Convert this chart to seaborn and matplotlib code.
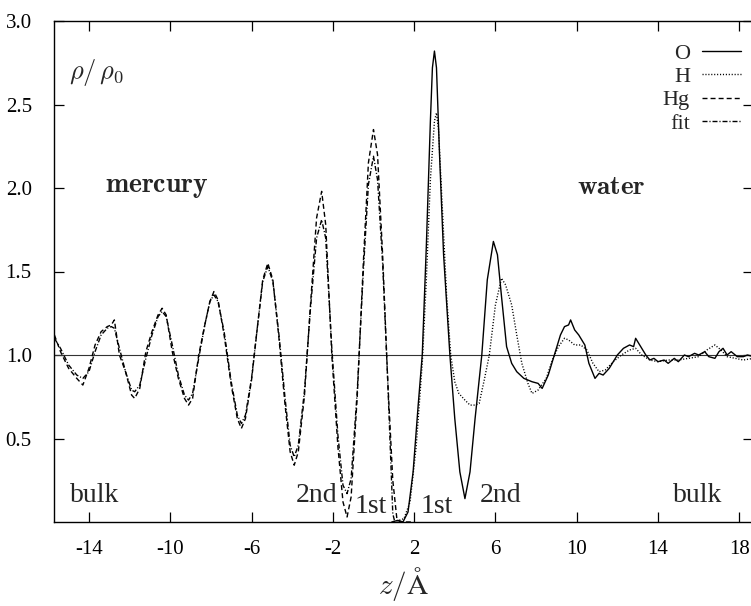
import matplotlib
matplotlib.use("Agg")
import matplotlib.pyplot as plt
import seaborn as sns
import pandas as pd

# ---------------- data ----------------
hg_z = [-15.7, -15.4, -15.0, -14.6, -14.3, -14.0, -13.7, -13.4, -13.1, -12.9, -12.75, -12.5,
        -12.2, -11.9, -11.75, -11.5, -11.2, -10.9, -10.6, -10.4, -10.2, -9.9, -9.6, -9.3,
        -9.1, -8.9, -8.6, -8.3, -8.05, -7.85, -7.65, -7.35, -7.0, -6.7, -6.5, -6.3, -6.0,
        -5.7, -5.45, -5.2, -4.95, -4.65, -4.35, -4.1, -3.9, -3.7, -3.4, -3.1, -2.8, -2.55,
        -2.35, -2.05, -1.75, -1.5, -1.3, -1.1, -0.8, -0.5, -0.25, 0.0, 0.2, 0.45, 0.7,
        0.95, 1.15, 1.3, 2.0]
hg_rho = [1.12, 1.02, 0.92, 0.86, 0.82, 0.92, 1.06, 1.14, 1.17, 1.18, 1.21, 1.00,
          0.90, 0.76, 0.74, 0.80, 1.02, 1.14, 1.24, 1.28, 1.24, 1.02, 0.86, 0.74,
          0.70, 0.74, 1.00, 1.18, 1.32, 1.38, 1.33, 1.12, 0.82, 0.62, 0.56, 0.62, 0.85,
          1.18, 1.45, 1.55, 1.45, 1.10, 0.70, 0.42, 0.34, 0.42, 0.75, 1.30, 1.82, 1.98,
          1.78, 1.00, 0.45, 0.12, 0.03, 0.15, 0.75, 1.55, 2.15, 2.35, 2.20, 1.60, 0.85,
          0.25, 0.02, 0.0, 0.0]

fit_z = [-15.7, -15.4, -15.0, -14.6, -14.3, -14.0, -13.7, -13.4, -13.1, -12.9, -12.75, -12.5,
         -12.2, -11.9, -11.75, -11.5, -11.2, -10.9, -10.6, -10.4, -10.2, -9.9, -9.6, -9.3,
         -9.1, -8.9, -8.6, -8.3, -8.05, -7.85, -7.65, -7.35, -7.0, -6.7, -6.5, -6.3, -6.0,
         -5.7, -5.45, -5.2, -4.95, -4.65, -4.35, -4.1, -3.9, -3.7, -3.4, -3.1, -2.8, -2.55,
         -2.35, -2.05, -1.75, -1.5, -1.3, -1.1, -0.8, -0.5, -0.25, 0.0, 0.2, 0.45, 0.7,
         0.95, 1.05]
fit_rho = [1.10, 1.04, 0.94, 0.88, 0.86, 0.90, 1.02, 1.12, 1.16, 1.17, 1.16, 1.04,
           0.90, 0.79, 0.78, 0.82, 0.98, 1.12, 1.23, 1.26, 1.23, 1.06, 0.88, 0.76,
           0.73, 0.77, 0.98, 1.18, 1.32, 1.36, 1.32, 1.14, 0.84, 0.64, 0.59, 0.64, 0.86,
           1.18, 1.44, 1.53, 1.44, 1.12, 0.74, 0.46, 0.39, 0.46, 0.78, 1.28, 1.70, 1.81,
           1.70, 1.04, 0.52, 0.22, 0.17, 0.26, 0.78, 1.50, 2.02, 2.19, 2.05, 1.55, 0.85,
           0.05, 0.0]

o_z = [0.9, 1.2, 1.45, 1.7, 1.95, 2.2, 2.4, 2.6, 2.8, 2.9, 3.0, 3.1, 3.25, 3.45, 3.76,
       4.0, 4.25, 4.5, 4.75, 5.0, 5.33, 5.6, 5.9, 6.1, 6.3, 6.55, 6.8, 7.05, 7.4, 7.8,
       8.1, 8.3, 8.6, 8.9, 9.2, 9.4, 9.6, 9.7, 9.9, 10.1, 10.4, 10.6, 10.9, 11.1, 11.3,
       11.6, 12.0, 12.3, 12.6, 12.8, 12.9, 13.1, 13.4, 13.6, 13.8, 14.0, 14.3, 14.5,
       14.8, 15.0, 15.3, 15.5, 15.8, 16.0, 16.3, 16.5, 16.8, 17.0, 17.2, 17.4, 17.6,
       17.9, 18.2, 18.4, 18.7]
o_rho = [0.0, 0.01, 0.0, 0.06, 0.30, 0.70, 1.00, 1.65, 2.40, 2.72, 2.82, 2.72, 2.20, 1.60,
         1.00, 0.62, 0.30, 0.14, 0.30, 0.62, 1.00, 1.45, 1.68, 1.60, 1.35, 1.05, 0.95,
         0.90, 0.86, 0.84, 0.83, 0.80, 0.88, 1.00, 1.12, 1.17, 1.18, 1.21, 1.15, 1.12,
         1.06, 0.95, 0.86, 0.89, 0.88, 0.92, 1.00, 1.04, 1.06, 1.05, 1.10, 1.06, 1.00,
         0.97, 0.98, 0.96, 0.97, 0.95, 0.98, 0.96, 1.00, 0.99, 1.01, 1.00, 1.02, 0.99,
         0.98, 1.02, 1.04, 1.00, 1.02, 0.99, 0.99, 1.00, 0.99]

h_z = [1.0, 1.5, 1.8, 2.1, 2.4, 2.6, 2.8, 3.0, 3.1, 3.2, 3.4, 3.6, 3.8, 4.0, 4.2, 4.5,
       4.75, 5.0, 5.2, 5.45, 5.7, 6.0, 6.3, 6.5, 6.8, 7.05, 7.3, 7.6, 7.8, 8.1, 8.5, 8.8,
       9.1, 9.4, 9.6, 9.9, 10.2, 10.5, 10.8, 11.1, 11.4, 11.8, 12.2, 12.6, 12.9, 13.2,
       13.6, 14.0, 14.5, 15.0, 15.5, 16.0, 16.4, 16.8, 17.1, 17.4, 17.8, 18.2, 18.7]
h_rho = [0.0, 0.02, 0.12, 0.45, 0.95, 1.45, 2.05, 2.40, 2.45, 2.35, 1.85, 1.35, 1.00,
         0.84, 0.77, 0.73, 0.70, 0.70, 0.71, 0.85, 1.00, 1.30, 1.46, 1.42, 1.30, 1.12,
         0.95, 0.83, 0.77, 0.79, 0.86, 0.97, 1.05, 1.10, 1.09, 1.06, 1.06, 1.03, 0.95,
         0.90, 0.91, 0.96, 1.00, 1.03, 1.04, 1.00, 0.97, 0.96, 0.97, 0.97, 0.98, 0.99,
         1.03, 1.06, 1.03, 0.99, 0.98, 0.97, 0.98]

x_ticks = [-14, -10, -6, -2, 2, 6, 10, 14, 18]
y_ticks = [0.5, 1.0, 1.5, 2.0, 2.5, 3.0]
y_ticklabels = ["0.5", "1.0", "1.5", "2.0", "2.5", "3.0"]

# ---------------- style ----------------
sns.set_theme(style="ticks")
plt.rcParams["font.family"] = ["Liberation Serif", "DejaVu Serif"]
plt.rcParams["mathtext.fontset"] = "cm"

fig = plt.figure(figsize=(7.51, 6.06), dpi=100)
ax = fig.add_axes([54 / 751, 1 - 522 / 606, 1.002 - 54 / 751, (522 - 21) / 606])

lw = 1.0
ax.axhline(1.0, color="#333333", lw=0.8, zorder=1)

sns.lineplot(x=hg_z, y=hg_rho, ax=ax, color="black", lw=lw, label="Hg",
             linestyle=(0, (3.6, 2.2)), sort=False, estimator=None)
sns.lineplot(x=fit_z, y=fit_rho, ax=ax, color="black", lw=lw, label="fit",
             linestyle=(0, (3.6, 1.4, 0.8, 1.4)), sort=False, estimator=None)
sns.lineplot(x=h_z, y=h_rho, ax=ax, color="black", lw=lw, label="H",
             linestyle=(0, (0.8, 1.3)), sort=False, estimator=None)
sns.lineplot(x=o_z, y=o_rho, ax=ax, color="black", lw=lw, label="O",
             linestyle="-", sort=False, estimator=None)

ax.set_xlim(-15.72, 18.65)
ax.set_ylim(0, 3.0)
ax.set_xticks(x_ticks)
ax.set_xticklabels([str(t) for t in x_ticks])
ax.set_yticks(y_ticks)
ax.set_yticklabels(y_ticklabels)
ax.tick_params(direction="in", length=7, width=0.9, top=True, right=True,
               labelsize=15, colors="black")
ax.tick_params(axis="x", pad=13)
ax.tick_params(axis="y", pad=16)
for s in ax.spines.values():
    s.set_visible(True)
    s.set_linewidth(1.0)
    s.set_color("black")

ax.set_xlabel(r"$z/\mathrm{\AA}$", fontsize=21, labelpad=4)
ax.set_ylabel("")

# annotations
ax.text(-15.0, 2.69, r"$\rho/\,\rho_0$", fontsize=19, ha="left", va="center")
ax.text(-10.65, 2.0, r"$\mathbf{mercury}$", fontsize=20, ha="center", va="center")
ax.text(11.7, 2.0, r"$\mathbf{water}$", fontsize=19.5, ha="center", va="center")
for txt, xx, yy in [("bulk", -13.7, 0.16), ("2nd", -2.8, 0.16), ("1st", -0.13, 0.09),
                    ("1st", 3.12, 0.09), ("2nd", 6.27, 0.16), ("bulk", 15.95, 0.16)]:
    ax.text(xx, yy, txt, fontsize=20, ha="center", va="center")

handles, labels = ax.get_legend_handles_labels()
order = ["O", "H", "Hg", "fit"]
hmap = dict(zip(labels, handles))
ax.legend([hmap[k] for k in order], order, loc="upper right",
          bbox_to_anchor=(741 / 751 + 0.0, 1 - 43 / 606), bbox_transform=fig.transFigure,
          frameon=False, markerfirst=False, fontsize=16, labelspacing=0.13,
          handlelength=1.75, handletextpad=0.55, borderpad=0, borderaxespad=0)

fig.savefig("out.png", dpi=100)
